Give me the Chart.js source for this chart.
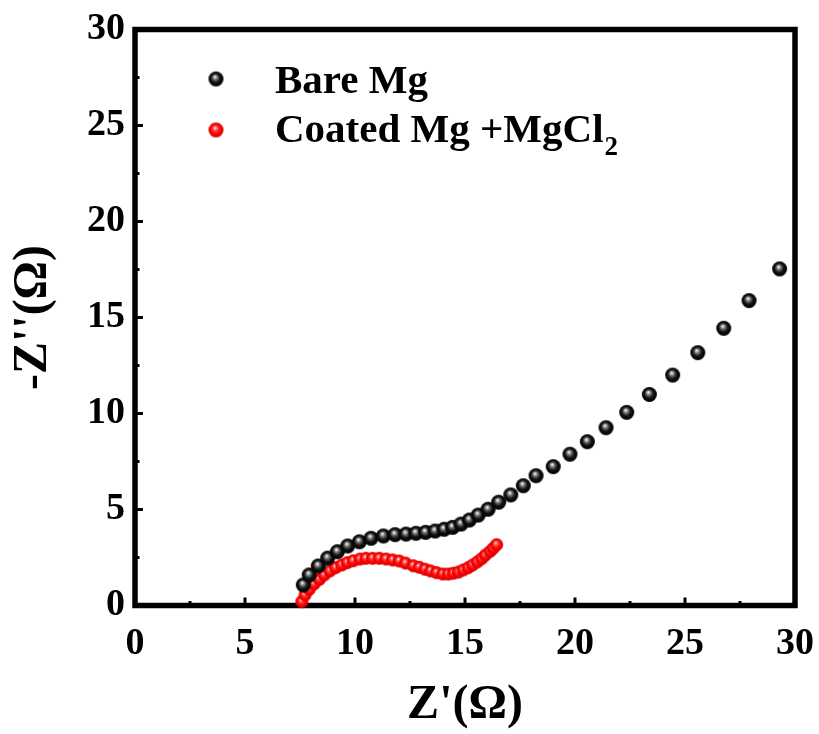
<!DOCTYPE html>
<html><head><meta charset="utf-8">
<script src="https://cdn.jsdelivr.net/npm/chart.js@4/dist/chart.umd.min.js"></script>
<style>html,body{margin:0;padding:0;background:#fff;} #wrap{width:819px;height:734px;}</style>
</head><body><div id="wrap"><canvas id="c" width="819" height="734"></canvas></div>
<script>
// ---- data ----
const seriesLabels = ['Bare Mg', 'Coated Mg +MgCl\u2082'];
const bareX = [7.65,7.92,8.33,8.76,9.20,9.67,10.20,10.73,11.29,11.82,12.32,12.77,13.21,13.64,14.05,14.44,14.82,15.20,15.60,16.05,16.53,17.08,17.65,18.23,19.01,19.77,20.56,21.41,22.35,23.38,24.44,25.58,26.76,27.91,29.30];
const bareY = [1.07,1.59,2.06,2.47,2.80,3.10,3.32,3.50,3.62,3.69,3.72,3.76,3.81,3.88,3.97,4.07,4.24,4.45,4.71,5.01,5.38,5.76,6.24,6.76,7.23,7.88,8.53,9.26,10.06,10.99,12.00,13.17,14.44,15.88,17.53];
const coatedX = [7.58,7.73,7.92,8.14,8.38,8.60,8.86,9.12,9.40,9.65,9.92,10.23,10.50,10.80,11.10,11.41,11.71,12.01,12.30,12.65,12.92,13.18,13.44,13.71,13.99,14.24,14.47,14.70,14.92,15.15,15.35,15.56,15.76,15.93,16.14,16.29,16.44];
const coatedY = [0.20,0.55,0.84,1.12,1.36,1.59,1.80,1.97,2.11,2.23,2.33,2.42,2.46,2.46,2.46,2.42,2.37,2.32,2.21,2.07,1.99,1.89,1.80,1.71,1.64,1.64,1.68,1.74,1.85,1.97,2.11,2.27,2.44,2.63,2.82,2.99,3.17];
const xTicks = [0,5,10,15,20,25,30];
const yTicks = [0,5,10,15,20,25,30];
const minorStep = 2.5;
const xTitle = "Z'(\u03A9)";
const yTitle = "-Z''(\u03A9)";

// ---- marker images ----
function makeSphere(r, stops) {
  const s = Math.ceil(2 * r + 2);
  const c = document.createElement('canvas');
  c.width = s; c.height = s;
  const x = c.getContext('2d');
  const g = x.createRadialGradient(s/2 - r*0.15, s/2 - r*0.3, r*0.05, s/2, s/2, r);
  stops.forEach(st => g.addColorStop(st[0], st[1]));
  x.fillStyle = g;
  x.beginPath(); x.arc(s/2, s/2, r, 0, Math.PI*2); x.fill();
  return c;
}
const blackStops = [[0,'#f4f4f4'],[0.3,'#6a6a6a'],[0.6,'#111'],[1,'#000']];
const redStops = [[0,'#ffe6e6'],[0.3,'#ff4040'],[0.65,'#ff0000'],[1,'#d40000']];
const blackBall = makeSphere(7.5, blackStops);
const redBall = makeSphere(6.5, redStops);
const legBlack = makeSphere(7.5, blackStops);
const legRed = makeSphere(7.5, redStops);

const FONT = "'Liberation Serif','Times New Roman',serif";

// frame + inward ticks
const framePlugin = {
  id: 'frame',
  beforeDatasetsDraw(chart) {
    const {ctx, chartArea: a, scales} = chart;
    ctx.save();
    ctx.strokeStyle = '#000';
    ctx.lineWidth = 5.5;
    ctx.lineJoin = 'miter';
    ctx.strokeRect(a.left, a.top, a.right - a.left, a.bottom - a.top);
    ctx.lineWidth = 3;
    ctx.lineCap = 'butt';
    const xs = scales.x, ys = scales.y;
    for (let v = xs.min; v <= xs.max + 1e-9; v += minorStep) {
      if (v === xs.min || v === xs.max) continue;
      const major = Math.abs(v / 5 - Math.round(v / 5)) < 1e-9;
      const px = xs.getPixelForValue(v);
      ctx.beginPath(); ctx.moveTo(px, a.bottom); ctx.lineTo(px, a.bottom - (major ? 8 : 4.5)); ctx.stroke();
    }
    for (let v = ys.min; v <= ys.max + 1e-9; v += minorStep) {
      if (v === ys.min || v === ys.max) continue;
      const major = Math.abs(v / 5 - Math.round(v / 5)) < 1e-9;
      const py = ys.getPixelForValue(v);
      ctx.beginPath(); ctx.moveTo(a.left, py); ctx.lineTo(a.left + (major ? 8 : 4.5), py); ctx.stroke();
    }
    ctx.restore();
  }
};

const subMap = {'\u2080':'0','\u2081':'1','\u2082':'2','\u2083':'3'};
const legendPlugin = {
  id: 'inlegend',
  afterDatasetsDraw(chart) {
    const {ctx} = chart;
    const rows = [{img: legBlack, cy: 79, base: 93}, {img: legRed, cy: 130, base: 142}];
    ctx.save();
    ctx.fillStyle = '#000';
    ctx.textBaseline = 'alphabetic';
    ctx.textAlign = 'left';
    chart.data.datasets.forEach((ds, i) => {
      const r = rows[i];
      ctx.drawImage(r.img, 216 - r.img.width/2, r.cy - r.img.height/2);
      let x = 275;
      let main = '', subs = [];
      for (const ch of ds.label) {
        if (subMap[ch]) subs.push(subMap[ch]); else main += ch;
      }
      ctx.font = "bold 41px " + FONT;
      ctx.fillText(main, x, r.base);
      x += ctx.measureText(main).width;
      if (subs.length) {
        ctx.font = "bold 27px " + FONT;
        ctx.fillText(subs.join(''), x + 1, r.base + 13);
      }
    });
    ctx.restore();
  }
};

new Chart(document.getElementById('c'), {
  type: 'scatter',
  data: {
    datasets: [
      { label: seriesLabels[0], data: bareX.map((x, i) => ({x, y: bareY[i]})),
        pointStyle: blackBall, pointRadius: 7.5, showLine: false, clip: false },
      { label: seriesLabels[1], data: coatedX.map((x, i) => ({x, y: coatedY[i]})),
        pointStyle: redBall, pointRadius: 6.5, showLine: false, clip: false }
    ]
  },
  options: {
    responsive: false,
    animation: false,
    devicePixelRatio: 1,
    layout: { padding: { top: 29.5, right: 24, left: 0, bottom: 0 } },
    plugins: { legend: { display: false }, tooltip: { enabled: false } },
    scales: {
      x: {
        type: 'linear', min: 0, max: 30,
        afterBuildTicks: s => { s.ticks = xTicks.map(v => ({value: v})); },
        afterFit: s => { s.height = 128.5; s.paddingLeft = 0; s.paddingRight = 0; },
        grid: { display: false, drawTicks: false },
        border: { display: false },
        ticks: { color: '#000', padding: 16, maxRotation: 0, font: { family: FONT, size: 38, weight: 'bold' } },
        title: { display: true, text: xTitle, color: '#000', padding: { top: 0, bottom: 0 },
                 font: { family: FONT, size: 48, weight: 'bold' } }
      },
      y: {
        type: 'linear', min: 0, max: 30,
        afterBuildTicks: s => { s.ticks = yTicks.map(v => ({value: v})); },
        afterFit: s => { s.width = 135; s.paddingTop = 0; s.paddingBottom = 0; },
        grid: { display: false, drawTicks: false },
        border: { display: false },
        ticks: { color: '#000', padding: 10, font: { family: FONT, size: 38, weight: 'bold' } },
        title: { display: true, text: yTitle, color: '#000', padding: { top: 5, bottom: 0 },
                 font: { family: FONT, size: 48, weight: 'bold' } }
      }
    }
  },
  plugins: [framePlugin, legendPlugin]
});
</script>
</body></html>
